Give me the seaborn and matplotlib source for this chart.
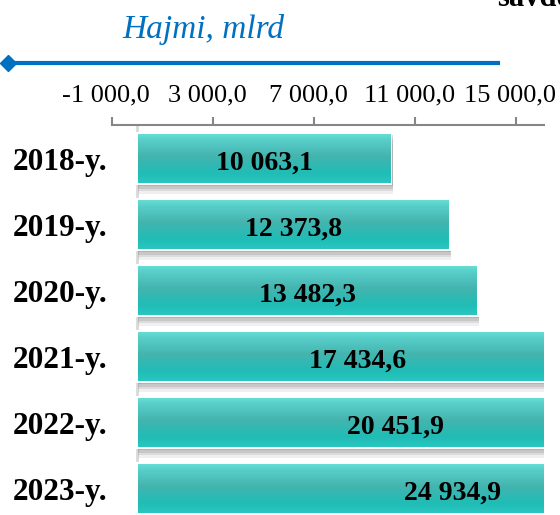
import numpy as np
import matplotlib
matplotlib.use("Agg")
import matplotlib.pyplot as plt
import matplotlib.patheffects as pe
from matplotlib.colors import LinearSegmentedColormap
from matplotlib.lines import Line2D
from matplotlib.transforms import ScaledTranslation
import seaborn as sns

# ---- data ----
categories = ["2018-y.", "2019-y.", "2020-y.", "2021-y.", "2022-y.", "2023-y."]
values = [10063.1, 12373.8, 13482.3, 17434.6, 20451.9, 24934.9]
tick_values = [-1000, 3000, 7000, 11000, 15000]
axis_title = "Hajmi, mlrd"
top_right_text = "savdo"


def fmt(v):
    s = f"{abs(v):,.1f}".replace(",", " ").replace(".", ",")
    return ("-" if v < 0 else "") + s


value_labels = [fmt(v) for v in values]
tick_labels = [fmt(v) for v in tick_values]

sns.set_style("white")
plt.rcParams["font.family"] = ["Liberation Serif", "DejaVu Serif"]
plt.rcParams["text.color"] = "black"
plt.rcParams["xtick.labelcolor"] = "black"
plt.rcParams["ytick.labelcolor"] = "black"

W, H = 560, 515
fig = plt.figure(figsize=(W / 100, H / 100), dpi=100)
fig.patch.set_facecolor("white")

ax_left, ax_right, ax_top = 112, 544, 125
ax = fig.add_axes([ax_left / W, 0, (ax_right - ax_left) / W, (H - ax_top) / H])

XMIN, XMAX = -1000, 16100
sns.barplot(x=values, y=categories, orient="h", color="#2CC0B9", saturation=1,
            width=0.765, edgecolor="white", linewidth=1.5, ax=ax, zorder=2)

# gradient fill + soft shadow on each bar
cmap = LinearSegmentedColormap.from_list(
    "teal", [(0.0, "#66DCD6"), (0.12, "#58CEC9"), (0.45, "#45B4AF"),
             (0.8, "#1FBDB6"), (1.0, "#2AC6BF")])
grad = np.linspace(0, 1, 100).reshape(-1, 1)
shadow = [pe.SimplePatchShadow(offset=(0.8, -d), shadow_rgbFace="#707070", alpha=a)
          for d, a in ((1.5, 0.26), (3.5, 0.2), (5.5, 0.15), (7.5, 0.10))] + [pe.Normal()]
for p in ax.patches:
    p.set_path_effects(shadow)
    x0, y0 = p.get_x(), p.get_y()
    x1, y1 = x0 + p.get_width(), y0 + p.get_height()
    x1c = min(x1, XMAX)
    pad_y = 0.012
    ax.imshow(grad, extent=(x0 + 40, x1c - (40 if x1 < XMAX else 0), y1 - pad_y, y0 + pad_y),
              origin="upper", aspect="auto", cmap=cmap, zorder=2.1,
              interpolation="bilinear")
ax.set_xlim(XMIN, XMAX)
ax.set_ylim(5.40, -0.508)

ax.axvline(0, color="#D9D9D9", lw=2, zorder=1)

# value labels, centred on the full bar length
for i, (v, lab) in enumerate(zip(values, value_labels)):
    ax.text(v / 2, i + 0.02, lab, ha="center", va="center_baseline", fontsize=20,
            fontweight="bold", color="black", zorder=5)

# axes styling
for s in ("left", "right", "bottom"):
    ax.spines[s].set_visible(False)
ax.spines["top"].set_visible(True)
ax.spines["top"].set_color("#868686")
ax.spines["top"].set_linewidth(1.5)
ax.xaxis.tick_top()
ax.set_xticks(tick_values)
ax.set_xticklabels(tick_labels, fontsize=19)
ax.tick_params(axis="x", direction="out", length=6, width=1.5, color="#868686",
               pad=7, labelcolor="black")
ax.tick_params(axis="y", length=0, pad=3, labelcolor="black")
for lab in ax.get_yticklabels():
    lab.set_fontsize(22.5)
    lab.set_fontweight("bold")
for lab in ax.get_xticklabels():
    lab.set_transform(lab.get_transform() + ScaledTranslation(-6 / 100, 0, fig.dpi_scale_trans))
ax.set_xlabel("")
ax.set_ylabel("")
ax.grid(False)

# blue axis title arrow and text
ly = 1 - 62.7 / H
fig.add_artist(Line2D([8 / W, 500 / W], [ly, ly], transform=fig.transFigure,
                      color="#0070C0", lw=3, marker="D", markevery=[0],
                      markersize=8, solid_capstyle="butt"))
fig.text(122 / W, 1 - 38 / H, axis_title, color="#0070C0", fontsize=24,
         fontstyle="italic", ha="left", va="baseline")
fig.text(497 / W, 1 - 6 / H, top_right_text, color="black", fontsize=22,
         fontweight="bold", ha="left", va="baseline")

fig.savefig("out.png", dpi=100, facecolor="white")
